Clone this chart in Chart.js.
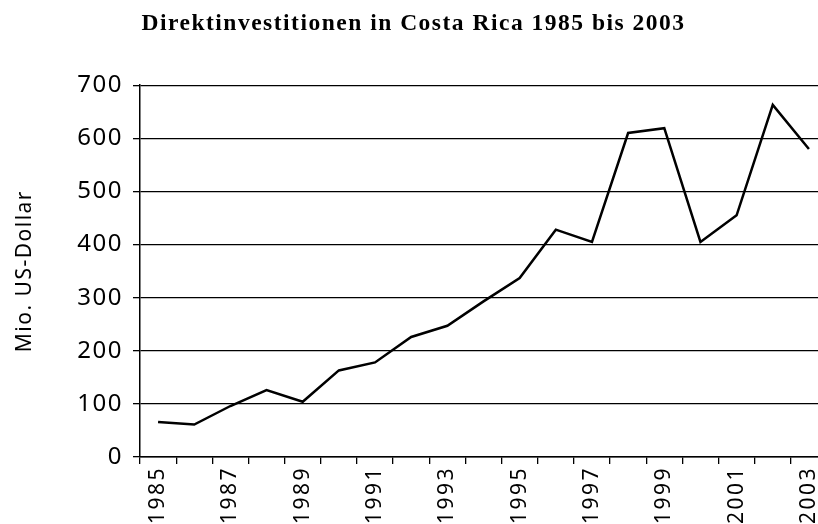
<!DOCTYPE html>
<html>
<head>
<meta charset="utf-8">
<script src="https://cdn.jsdelivr.net/npm/chart.js@4/dist/chart.umd.min.js"></script>
<style>
  html, body { margin: 0; padding: 0; background: #fff; overflow: hidden; }
  #wrap { width: 840px; height: 560px; }
</style>
</head>
<body>
<div id="wrap"><canvas id="fdiChart"></canvas></div>
<script>
// Direktinvestitionen, Mio. US-Dollar
const years = ['1985', '1986', '1987', '1988', '1989', '1990', '1991', '1992', '1993', '1994',
               '1995', '1996', '1997', '1998', '1999', '2000', '2001', '2002', '2003'];
const investments = [66, 61, 96, 126, 104, 163, 178, 226, 247, 293,
                     337, 428, 405, 610, 619, 405, 455, 663, 580];
const yTicks = [0, 100, 200, 300, 400, 500, 600, 700];

// the source picture is a bit stretched, so text is spaced out a little
const spacing = {
    id: 'spacing',
    beforeDraw(chart) { chart.ctx.letterSpacing = '1.5px'; },
    afterDraw(chart) { chart.ctx.letterSpacing = '0px'; }
};

// year labels are spaced out more than the rest
const baseDrawLabels = Chart.CategoryScale.prototype.drawLabels;
Chart.CategoryScale.prototype.drawLabels = function(area) {
    const prev = this.ctx.letterSpacing;
    this.ctx.letterSpacing = '2.5px';
    baseDrawLabels.call(this, area);
    this.ctx.letterSpacing = prev;
};

const ctx = document.getElementById('fdiChart').getContext('2d');
const fdiChart = new Chart(ctx, {
    type: 'line',
    data: {
        labels: years,
        datasets: [{
            label: 'Direktinvestitionen',
            data: investments,
            borderColor: '#000',
            borderWidth: 2.5,
            pointRadius: 0,
            tension: 0,
            fill: false
        }]
    },
    options: {
        responsive: true,
        maintainAspectRatio: false,
        animation: false,
        layout: { padding: { right: 13 } },
        plugins: {
            legend: { display: false },
            tooltip: { enabled: false },
            title: {
                display: true,
                text: 'Direktinvestitionen in Costa Rica 1985 bis 2003',
                color: '#000',
                font: { family: '"Liberation Serif", serif', size: 23.5, weight: 'bold' },
                padding: { top: 10, bottom: 47 }
            }
        },
        scales: {
            x: {
                offset: true,
                grid: { offset: true, drawOnChartArea: false, color: '#000', lineWidth: 1.3, tickLength: 7 },
                border: { color: '#000', width: 1.5 },
                ticks: {
                    color: '#000',
                    font: { family: '"Noto Sans", sans-serif', size: 21 },
                    minRotation: 90,
                    maxRotation: 90,
                    autoSkip: false,
                    padding: 2,
                    callback: function(value, index) {
                        return index % 2 === 0 ? years[index] : '';
                    }
                },
                afterFit: function(scale) { scale.height = 103; }
            },
            y: {
                min: 0,
                max: 700,
                afterBuildTicks: function(scale) {
                    scale.ticks = yTicks.map(v => ({ value: v }));
                },
                grid: { color: '#000', lineWidth: 1.3, tickLength: 7 },
                border: { color: '#000', width: 1.5 },
                ticks: {
                    color: '#000',
                    font: { family: '"Noto Sans", sans-serif', size: 24 },
                    padding: 10
                },
                title: {
                    display: true,
                    text: 'Mio. US-Dollar',
                    color: '#000',
                    font: { family: '"Noto Sans", sans-serif', size: 21 },
                    padding: { top: 12, bottom: 4 }
                },
                afterFit: function(scale) { scale.width = 140; }
            }
        }
    },
    plugins: [spacing]
});
</script>
</body>
</html>
